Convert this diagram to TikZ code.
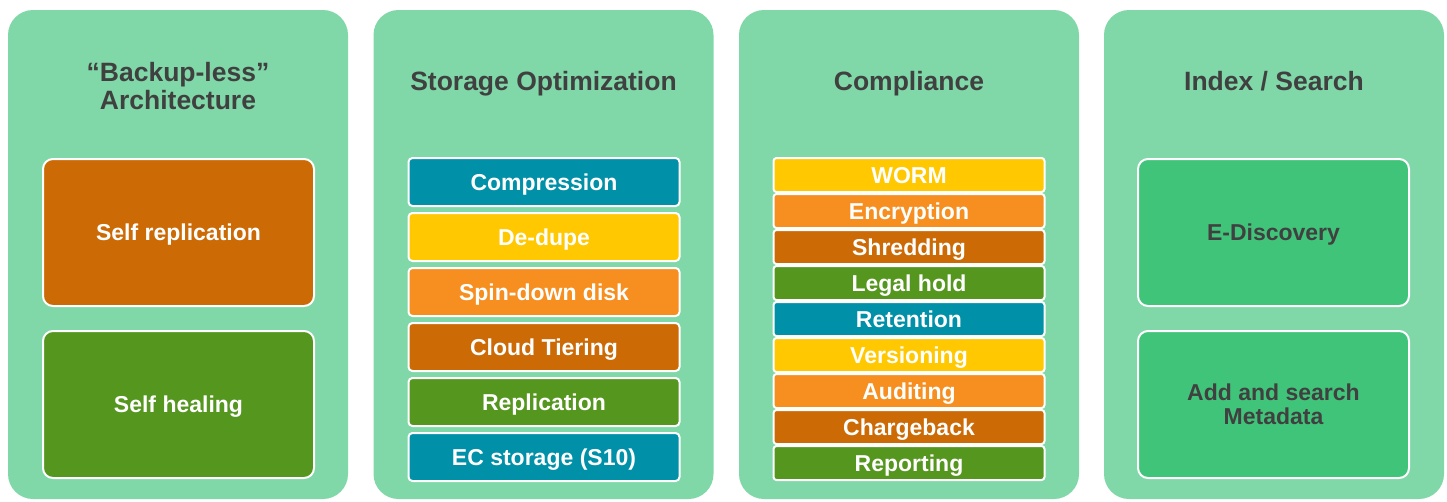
\documentclass[tikz,border=0pt]{standalone}
\usepackage{fontspec}
\setmainfont{Liberation Sans}
\usepackage{tikz}
\usetikzlibrary{positioning}
\definecolor{panelgreen}{RGB}{128,216,168}
\definecolor{teal}{RGB}{0,144,168}
\definecolor{gold}{RGB}{255,200,0}
\definecolor{tangerine}{RGB}{246,143,32}
\definecolor{rust}{RGB}{204,106,6}
\definecolor{leaf}{RGB}{84,150,30}
\definecolor{emerald}{RGB}{64,196,122}
\definecolor{ink}{RGB}{64,64,64}
\tikzset{
  panel/.style={rectangle, rounded corners=25pt, minimum width=340pt, minimum height=489pt, inner sep=0pt, fill=panelgreen},
  ttl/.style={font=\fontsize{26.5}{28}\selectfont\bfseries, text=ink, align=center},
  oneline/.style={text height=19pt, text depth=3pt},
  bigbox/.style={rectangle, rounded corners=10pt, minimum width=271pt, minimum height=147pt, draw=white, line width=2pt, text=white, align=center, font=\fontsize{23}{24}\selectfont\bfseries},
  midbox/.style={rectangle, rounded corners=4pt, minimum width=271pt, minimum height=48pt, oneline, draw=white, line width=2pt, text=white, font=\fontsize{23}{24}\selectfont\bfseries},
  slimbox/.style={rectangle, rounded corners=3pt, minimum width=271pt, minimum height=34pt, inner sep=0pt, oneline, draw=white, line width=2pt, text=white, font=\fontsize{23}{24}\selectfont\bfseries},
  node distance=5pt
}
\begin{document}
\begin{tikzpicture}[x=1pt,y=-1pt]
	\useasboundingbox (0,0) rectangle (1447,501);
	\node[panel] (arch) at (178,254.5) {};
	\node[panel] (stor) at (543.5,254.5) {};
	\node[panel] (comp) at (909,254.5) {};
	\node[panel] (index) at (1274,254.5) {};

	% titles
	\node[ttl] (archttl) at (178,86) {“Backup-less”\\Architecture};
	\node[ttl, oneline] (storttl) at (543.5,82.5) {Storage Optimization};
	\node[ttl, oneline] (compttl) at (909,82.5) {Compliance};
	\node[ttl, oneline] (indexttl) at (1274,82.5) {Index / Search};

	% backup-less
	\node[bigbox, oneline, fill=rust] (replic) at (178.5,232.5) {Self replication};
	\node[bigbox, oneline, fill=leaf, below=23pt of replic] (heal) {Self healing};

	% storage
	\node[midbox, fill=teal] (compr) at (544,182) {Compression};
	\node[midbox, fill=gold, below=of compr] (dedupe) {De-dupe};
	\node[midbox, fill=tangerine, below=of dedupe] (spin) {Spin-down disk};
	\node[midbox, fill=rust, below=of spin] (cloud) {Cloud Tiering};
	\node[midbox, fill=leaf, below=of cloud] (repl) {Replication};
	\node[midbox, fill=teal, below=of repl] (ec) {EC storage (S10)};

	% compliance
	\node[slimbox, fill=gold] (worm) at (909,175) {WORM};
	\node[slimbox, fill=tangerine, below=0pt of worm] (encr) {Encryption};
	\node[slimbox, fill=rust, below=0pt of encr] (shred) {Shredding};
	\node[slimbox, fill=leaf, below=0pt of shred] (legal) {Legal hold};
	\node[slimbox, fill=teal, below=0pt of legal] (reten) {Retention};
	\node[slimbox, fill=gold, below=0pt of reten] (vers) {Versioning};
	\node[slimbox, fill=tangerine, below=0pt of vers] (audit) {Auditing};
	\node[slimbox, fill=rust, below=0pt of audit] (charge) {Chargeback};
	\node[slimbox, fill=leaf, below=0pt of charge] (report) {Reporting};

	% index
	\node[bigbox, oneline, fill=emerald, text=ink] (disc) at (1273.5,232.5) {E-Discovery};
	\node[bigbox, fill=emerald, text=ink, below=23pt of disc] (meta) {Add and search\\Metadata};
\end{tikzpicture}
\end{document}
